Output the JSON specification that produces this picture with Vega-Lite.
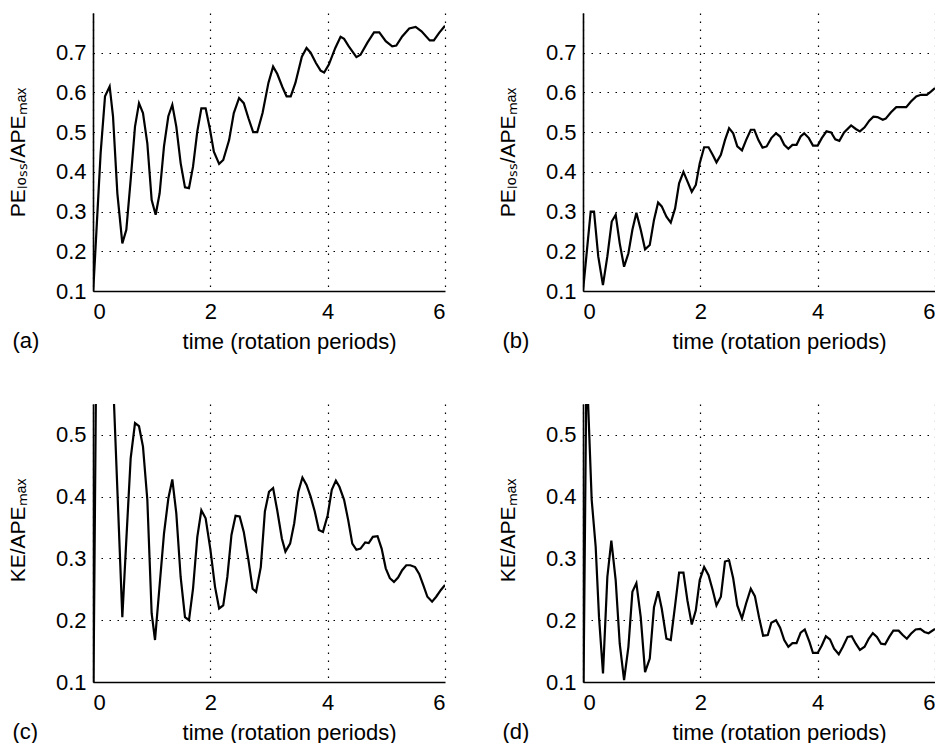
{
  "$schema": "https://vega.github.io/schema/vega-lite/v6.json",
  "background": "white",
  "padding": {"left": 7, "top": 13, "right": 0, "bottom": 0},
  "config": {
    "view": {"stroke": null},
    "font": "Liberation Sans",
    "axis": {
      "grid": true, "gridColor": "#000", "gridDash": [1.5, 6.5], "gridWidth": 1.2, "gridOpacity": 1,
      "domainColor": "#000", "domainWidth": 1.6, "ticks": false, "tickSize": 0,
      "labelFont": "Liberation Sans", "labelFontSize": 22, "labelColor": "#000",
      "titleFont": "Liberation Sans", "titleFontSize": 21, "titleFontWeight": "normal", "titleColor": "#000"
    },
    "axisX": {"labelPadding": 10, "titlePadding": 9, "titleFontSize": 22, "titleX": 196},
    "axisY": {"labelPadding": 7, "titlePadding": 27},
    "title": {"orient": "bottom", "anchor": "start", "frame": "bounds", "fontSize": 22, "fontWeight": "normal", "font": "Liberation Sans", "color": "#000", "dy": -25, "dx": 5}
  },
  "datasets": {
    "a": [{"t":0,"v":0.09},{"t":0.13,"v":0.447},{"t":0.205,"v":0.59},{"t":0.284,"v":0.615},{"t":0.341,"v":0.54},{"t":0.415,"v":0.346},{"t":0.5,"v":0.22},{"t":0.568,"v":0.254},{"t":0.642,"v":0.38},{"t":0.716,"v":0.514},{"t":0.784,"v":0.573},{"t":0.852,"v":0.548},{"t":0.926,"v":0.472},{"t":1.0,"v":0.329},{"t":1.068,"v":0.292},{"t":1.136,"v":0.346},{"t":1.21,"v":0.464},{"t":1.284,"v":0.54},{"t":1.352,"v":0.569},{"t":1.42,"v":0.514},{"t":1.494,"v":0.422},{"t":1.568,"v":0.361},{"t":1.636,"v":0.359},{"t":1.705,"v":0.413},{"t":1.778,"v":0.502},{"t":1.847,"v":0.56},{"t":1.92,"v":0.56},{"t":1.99,"v":0.51},{"t":2.06,"v":0.451},{"t":2.15,"v":0.42},{"t":2.22,"v":0.43},{"t":2.32,"v":0.48},{"t":2.4,"v":0.548},{"t":2.49,"v":0.586},{"t":2.57,"v":0.573},{"t":2.65,"v":0.535},{"t":2.73,"v":0.5},{"t":2.8,"v":0.5},{"t":2.89,"v":0.548},{"t":2.99,"v":0.624},{"t":3.07,"v":0.665},{"t":3.14,"v":0.647},{"t":3.23,"v":0.613},{"t":3.3,"v":0.59},{"t":3.37,"v":0.59},{"t":3.45,"v":0.624},{"t":3.56,"v":0.69},{"t":3.64,"v":0.712},{"t":3.71,"v":0.7},{"t":3.8,"v":0.674},{"t":3.88,"v":0.655},{"t":3.94,"v":0.65},{"t":4.02,"v":0.67},{"t":4.13,"v":0.712},{"t":4.22,"v":0.74},{"t":4.28,"v":0.735},{"t":4.36,"v":0.716},{"t":4.49,"v":0.689},{"t":4.56,"v":0.695},{"t":4.68,"v":0.726},{"t":4.79,"v":0.751},{"t":4.88,"v":0.751},{"t":4.99,"v":0.729},{"t":5.1,"v":0.716},{"t":5.17,"v":0.718},{"t":5.27,"v":0.741},{"t":5.39,"v":0.761},{"t":5.5,"v":0.765},{"t":5.6,"v":0.754},{"t":5.74,"v":0.731},{"t":5.81,"v":0.731},{"t":5.9,"v":0.75},{"t":6.0,"v":0.768}],
    "b": [{"t":0,"v":0.1},{"t":0.131,"v":0.3},{"t":0.188,"v":0.3},{"t":0.26,"v":0.187},{"t":0.34,"v":0.115},{"t":0.415,"v":0.187},{"t":0.49,"v":0.275},{"t":0.557,"v":0.292},{"t":0.626,"v":0.22},{"t":0.7,"v":0.161},{"t":0.774,"v":0.195},{"t":0.842,"v":0.254},{"t":0.91,"v":0.297},{"t":0.984,"v":0.254},{"t":1.058,"v":0.205},{"t":1.138,"v":0.216},{"t":1.21,"v":0.279},{"t":1.28,"v":0.323},{"t":1.342,"v":0.313},{"t":1.422,"v":0.287},{"t":1.496,"v":0.272},{"t":1.57,"v":0.308},{"t":1.638,"v":0.371},{"t":1.712,"v":0.4},{"t":1.78,"v":0.376},{"t":1.854,"v":0.35},{"t":1.923,"v":0.367},{"t":1.99,"v":0.422},{"t":2.065,"v":0.462},{"t":2.14,"v":0.462},{"t":2.21,"v":0.443},{"t":2.275,"v":0.424},{"t":2.35,"v":0.443},{"t":2.42,"v":0.48},{"t":2.49,"v":0.51},{"t":2.56,"v":0.497},{"t":2.63,"v":0.464},{"t":2.71,"v":0.454},{"t":2.78,"v":0.48},{"t":2.86,"v":0.506},{"t":2.92,"v":0.506},{"t":2.99,"v":0.48},{"t":3.06,"v":0.461},{"t":3.13,"v":0.464},{"t":3.21,"v":0.485},{"t":3.29,"v":0.497},{"t":3.36,"v":0.489},{"t":3.43,"v":0.468},{"t":3.5,"v":0.458},{"t":3.57,"v":0.468},{"t":3.64,"v":0.468},{"t":3.71,"v":0.489},{"t":3.77,"v":0.497},{"t":3.85,"v":0.485},{"t":3.92,"v":0.466},{"t":4.0,"v":0.466},{"t":4.07,"v":0.485},{"t":4.15,"v":0.502},{"t":4.23,"v":0.499},{"t":4.3,"v":0.482},{"t":4.37,"v":0.478},{"t":4.45,"v":0.499},{"t":4.57,"v":0.517},{"t":4.65,"v":0.508},{"t":4.72,"v":0.502},{"t":4.8,"v":0.512},{"t":4.88,"v":0.529},{"t":4.95,"v":0.539},{"t":5.02,"v":0.538},{"t":5.11,"v":0.531},{"t":5.16,"v":0.534},{"t":5.25,"v":0.55},{"t":5.34,"v":0.563},{"t":5.42,"v":0.563},{"t":5.51,"v":0.563},{"t":5.59,"v":0.577},{"t":5.68,"v":0.59},{"t":5.76,"v":0.594},{"t":5.86,"v":0.594},{"t":5.93,"v":0.602},{"t":6.0,"v":0.611}],
    "c": [{"t":0,"v":0.0},{"t":0.07,"v":0.8},{"t":0.14,"v":0.92},{"t":0.21,"v":0.86},{"t":0.286,"v":0.72},{"t":0.358,"v":0.551},{"t":0.5,"v":0.205},{"t":0.568,"v":0.33},{"t":0.642,"v":0.462},{"t":0.716,"v":0.519},{"t":0.784,"v":0.514},{"t":0.852,"v":0.481},{"t":0.926,"v":0.395},{"t":1.0,"v":0.211},{"t":1.057,"v":0.168},{"t":1.136,"v":0.257},{"t":1.21,"v":0.34},{"t":1.284,"v":0.397},{"t":1.352,"v":0.428},{"t":1.42,"v":0.373},{"t":1.494,"v":0.27},{"t":1.568,"v":0.205},{"t":1.636,"v":0.2},{"t":1.705,"v":0.251},{"t":1.778,"v":0.335},{"t":1.847,"v":0.378},{"t":1.92,"v":0.365},{"t":2.0,"v":0.315},{"t":2.08,"v":0.254},{"t":2.15,"v":0.219},{"t":2.22,"v":0.224},{"t":2.29,"v":0.27},{"t":2.36,"v":0.338},{"t":2.43,"v":0.369},{"t":2.5,"v":0.368},{"t":2.57,"v":0.343},{"t":2.65,"v":0.297},{"t":2.72,"v":0.251},{"t":2.78,"v":0.246},{"t":2.86,"v":0.286},{"t":2.93,"v":0.376},{"t":3.0,"v":0.408},{"t":3.07,"v":0.414},{"t":3.14,"v":0.378},{"t":3.22,"v":0.332},{"t":3.28,"v":0.311},{"t":3.36,"v":0.324},{"t":3.43,"v":0.357},{"t":3.5,"v":0.408},{"t":3.57,"v":0.431},{"t":3.64,"v":0.419},{"t":3.71,"v":0.4},{"t":3.78,"v":0.376},{"t":3.85,"v":0.346},{"t":3.92,"v":0.343},{"t":4.0,"v":0.37},{"t":4.07,"v":0.411},{"t":4.14,"v":0.426},{"t":4.2,"v":0.416},{"t":4.28,"v":0.395},{"t":4.35,"v":0.362},{"t":4.42,"v":0.324},{"t":4.49,"v":0.314},{"t":4.56,"v":0.316},{"t":4.64,"v":0.326},{"t":4.7,"v":0.325},{"t":4.77,"v":0.335},{"t":4.85,"v":0.336},{"t":4.92,"v":0.316},{"t":4.99,"v":0.284},{"t":5.06,"v":0.268},{"t":5.13,"v":0.262},{"t":5.2,"v":0.269},{"t":5.27,"v":0.281},{"t":5.34,"v":0.289},{"t":5.41,"v":0.289},{"t":5.49,"v":0.286},{"t":5.56,"v":0.275},{"t":5.63,"v":0.257},{"t":5.7,"v":0.238},{"t":5.78,"v":0.23},{"t":5.85,"v":0.238},{"t":5.93,"v":0.249},{"t":6.0,"v":0.257}],
    "d": [{"t":0,"v":0.0},{"t":0.06,"v":0.62},{"t":0.148,"v":0.395},{"t":0.216,"v":0.319},{"t":0.273,"v":0.205},{"t":0.341,"v":0.114},{"t":0.415,"v":0.27},{"t":0.483,"v":0.329},{"t":0.557,"v":0.265},{"t":0.626,"v":0.162},{"t":0.7,"v":0.103},{"t":0.774,"v":0.157},{"t":0.842,"v":0.246},{"t":0.91,"v":0.26},{"t":0.984,"v":0.205},{"t":1.058,"v":0.116},{"t":1.138,"v":0.138},{"t":1.21,"v":0.221},{"t":1.28,"v":0.247},{"t":1.342,"v":0.219},{"t":1.422,"v":0.17},{"t":1.496,"v":0.168},{"t":1.57,"v":0.224},{"t":1.638,"v":0.277},{"t":1.712,"v":0.277},{"t":1.78,"v":0.232},{"t":1.854,"v":0.193},{"t":1.923,"v":0.216},{"t":1.99,"v":0.265},{"t":2.065,"v":0.286},{"t":2.14,"v":0.273},{"t":2.21,"v":0.249},{"t":2.275,"v":0.224},{"t":2.35,"v":0.238},{"t":2.42,"v":0.295},{"t":2.49,"v":0.297},{"t":2.56,"v":0.268},{"t":2.63,"v":0.224},{"t":2.71,"v":0.203},{"t":2.78,"v":0.227},{"t":2.86,"v":0.251},{"t":2.93,"v":0.239},{"t":3.0,"v":0.205},{"t":3.07,"v":0.175},{"t":3.15,"v":0.176},{"t":3.21,"v":0.196},{"t":3.29,"v":0.2},{"t":3.36,"v":0.188},{"t":3.43,"v":0.168},{"t":3.5,"v":0.157},{"t":3.57,"v":0.163},{"t":3.64,"v":0.163},{"t":3.71,"v":0.18},{"t":3.78,"v":0.185},{"t":3.86,"v":0.165},{"t":3.92,"v":0.147},{"t":4.0,"v":0.147},{"t":4.07,"v":0.159},{"t":4.14,"v":0.174},{"t":4.21,"v":0.169},{"t":4.28,"v":0.154},{"t":4.36,"v":0.145},{"t":4.43,"v":0.157},{"t":4.51,"v":0.173},{"t":4.58,"v":0.174},{"t":4.65,"v":0.162},{"t":4.72,"v":0.152},{"t":4.8,"v":0.157},{"t":4.87,"v":0.17},{"t":4.94,"v":0.179},{"t":5.01,"v":0.173},{"t":5.08,"v":0.162},{"t":5.15,"v":0.161},{"t":5.22,"v":0.173},{"t":5.29,"v":0.183},{"t":5.38,"v":0.183},{"t":5.45,"v":0.176},{"t":5.52,"v":0.17},{"t":5.59,"v":0.178},{"t":5.67,"v":0.185},{"t":5.75,"v":0.186},{"t":5.82,"v":0.181},{"t":5.89,"v":0.179},{"t":6.0,"v":0.186}]
  },
  "columns": 2,
  "bounds": "flush",
  "spacing": {"row": 113, "column": 138},
  "concat": [
    {
      "width": 352, "height": 278,
      "data": {"name": "a"},
      "title": {"text": "(a)"},
      "mark": {"type": "line", "color": "#000", "strokeWidth": 2.2, "clip": true},
      "encoding": {
        "x": {"field": "t", "type": "quantitative", "scale": {"domain": [0, 6], "nice": false, "zero": false}, "axis": {"values": [0, 2, 4, 6], "format": "d", "title": "time (rotation periods)"}},
        "y": {"field": "v", "type": "quantitative", "scale": {"domain": [0.1, 0.8], "nice": false, "zero": false}, "axis": {"values": [0.1, 0.2, 0.3, 0.4, 0.5, 0.6, 0.7], "format": ".1f", "title": "PEₗₒₛₛ/APEₘₐₓ"}}
      }
    },
    {
      "width": 352, "height": 278,
      "data": {"name": "b"},
      "title": {"text": "(b)"},
      "mark": {"type": "line", "color": "#000", "strokeWidth": 2.2, "clip": true},
      "encoding": {
        "x": {"field": "t", "type": "quantitative", "scale": {"domain": [0, 6], "nice": false, "zero": false}, "axis": {"values": [0, 2, 4, 6], "format": "d", "title": "time (rotation periods)"}},
        "y": {"field": "v", "type": "quantitative", "scale": {"domain": [0.1, 0.8], "nice": false, "zero": false}, "axis": {"values": [0.1, 0.2, 0.3, 0.4, 0.5, 0.6, 0.7], "format": ".1f", "title": "PEₗₒₛₛ/APEₘₐₓ"}}
      }
    },
    {
      "width": 352, "height": 278,
      "data": {"name": "c"},
      "title": {"text": "(c)"},
      "mark": {"type": "line", "color": "#000", "strokeWidth": 2.2, "clip": true},
      "encoding": {
        "x": {"field": "t", "type": "quantitative", "scale": {"domain": [0, 6], "nice": false, "zero": false}, "axis": {"values": [0, 2, 4, 6], "format": "d", "title": "time (rotation periods)"}},
        "y": {"field": "v", "type": "quantitative", "scale": {"domain": [0.1, 0.55], "nice": false, "zero": false}, "axis": {"values": [0.1, 0.2, 0.3, 0.4, 0.5], "format": ".1f", "title": "KE/APEₘₐₓ", "titleY": 126}}
      }
    },
    {
      "width": 352, "height": 278,
      "data": {"name": "d"},
      "title": {"text": "(d)"},
      "mark": {"type": "line", "color": "#000", "strokeWidth": 2.2, "clip": true},
      "encoding": {
        "x": {"field": "t", "type": "quantitative", "scale": {"domain": [0, 6], "nice": false, "zero": false}, "axis": {"values": [0, 2, 4, 6], "format": "d", "title": "time (rotation periods)"}},
        "y": {"field": "v", "type": "quantitative", "scale": {"domain": [0.1, 0.55], "nice": false, "zero": false}, "axis": {"values": [0.1, 0.2, 0.3, 0.4, 0.5], "format": ".1f", "title": "KE/APEₘₐₓ", "titleY": 126}}
      }
    }
  ]
}
